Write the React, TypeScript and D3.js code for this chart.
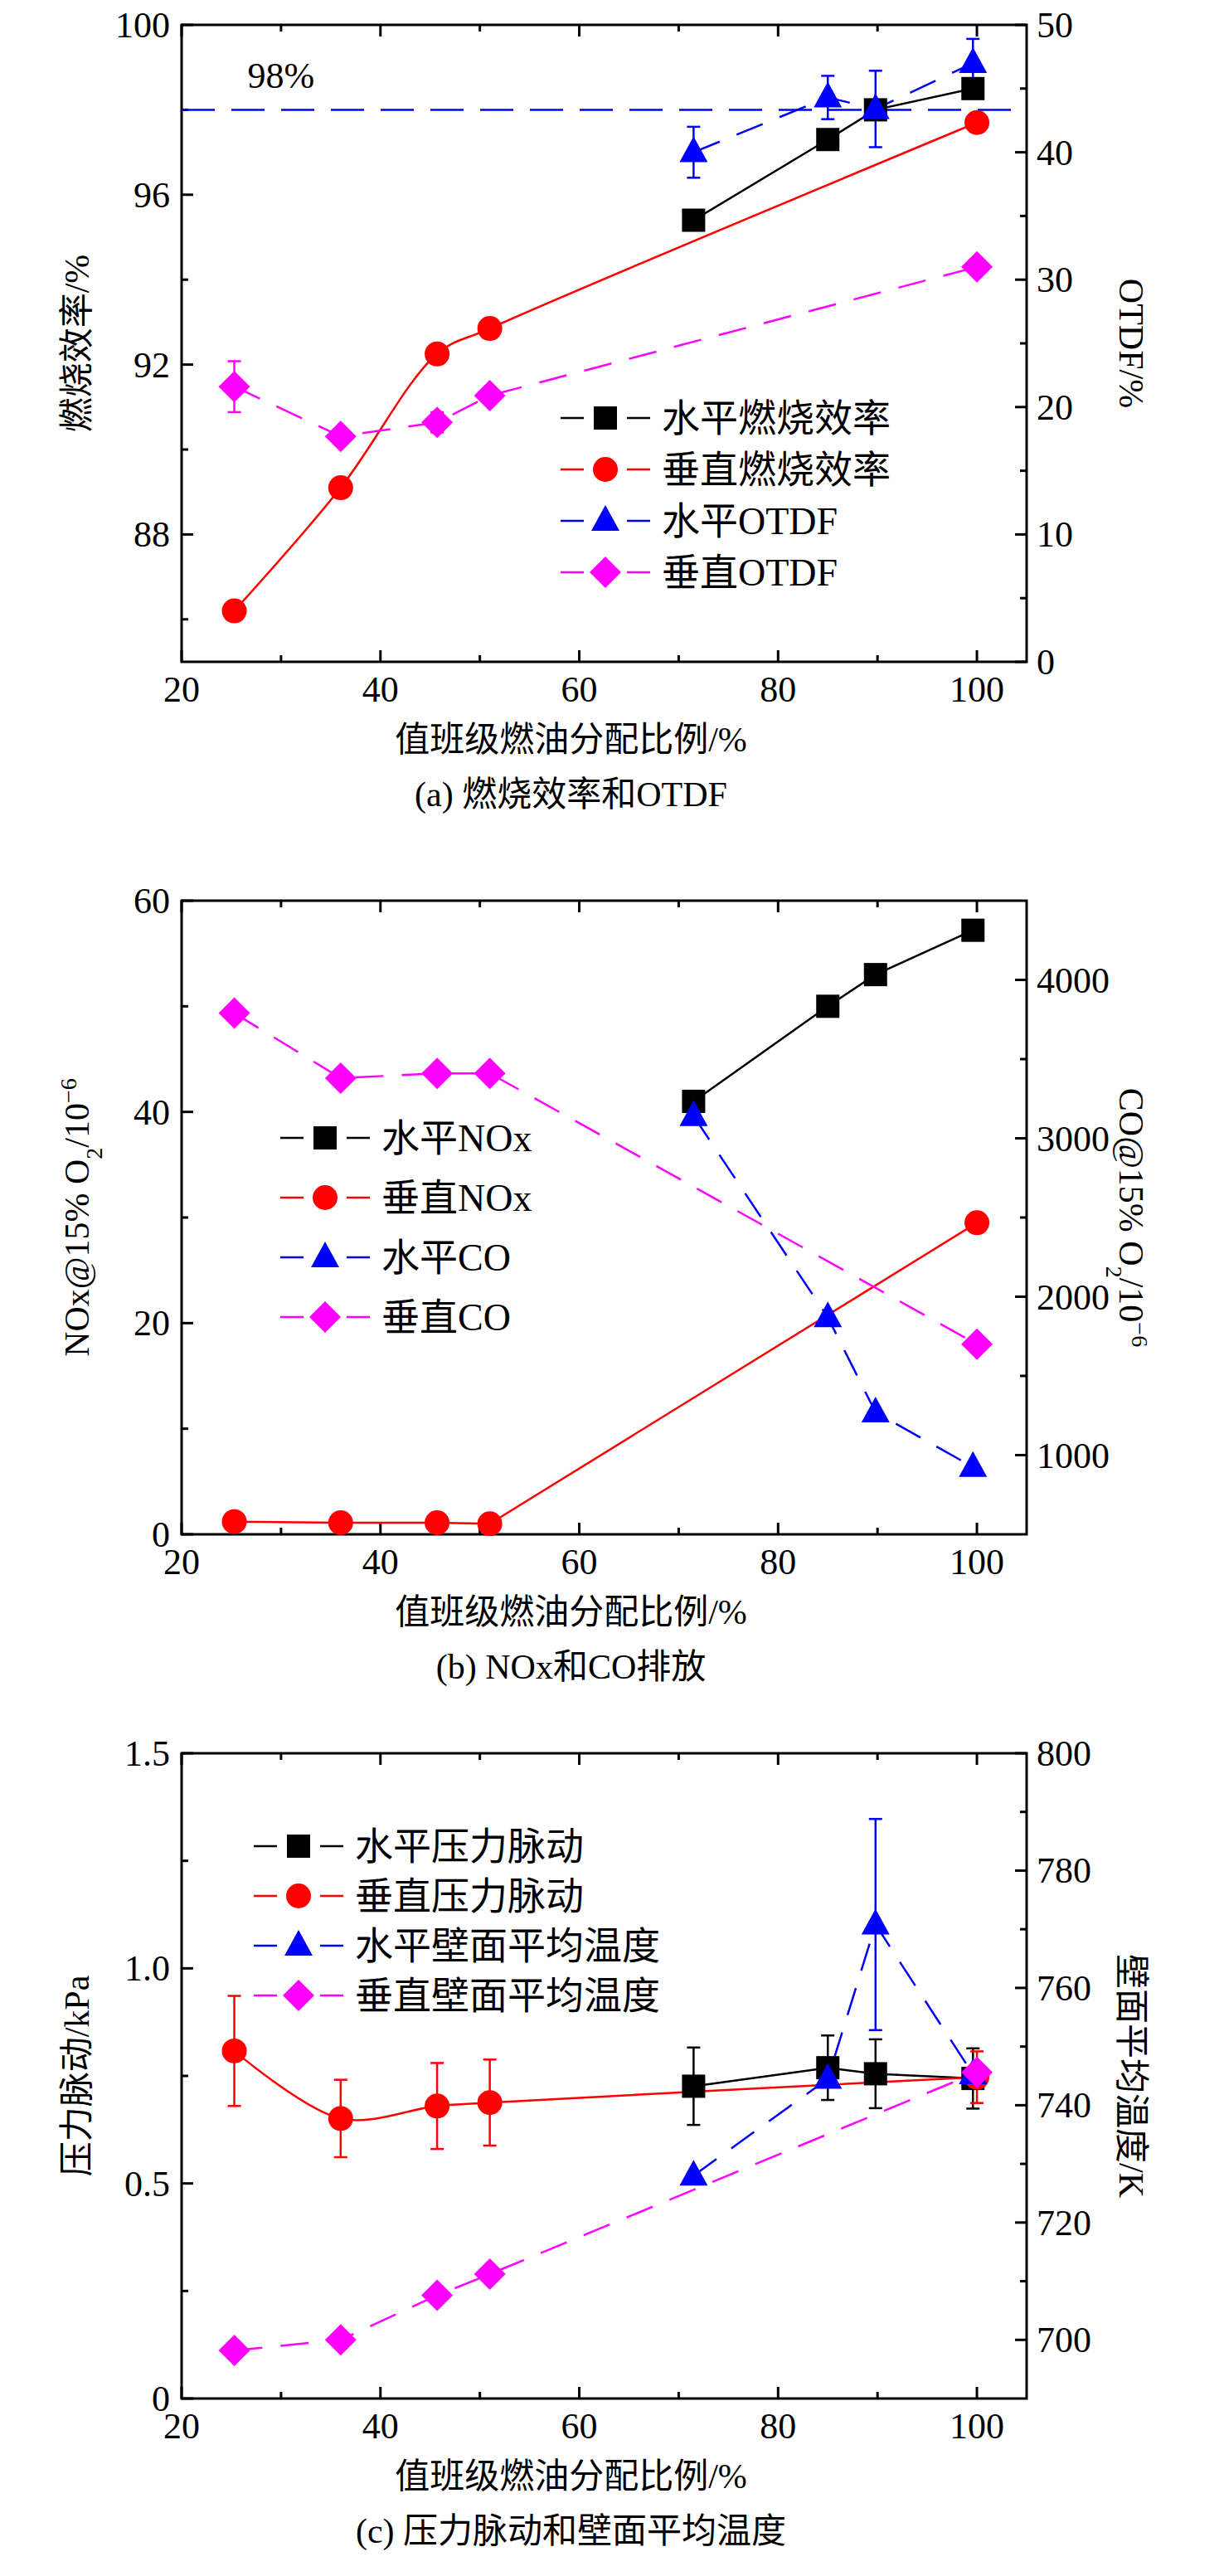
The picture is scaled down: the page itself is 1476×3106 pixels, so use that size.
import { useEffect, useRef } from "react";
import * as d3 from "d3";

// shared x positions (值班级燃油分配比例/%)
const xVert = [25.3, 36, 45.7, 51, 100];
const xHoriz = [71.5, 85, 89.8, 99.6];

// (a)
const effHoriz = [95.4, 97.3, 98.0, 98.5];
const effVert = [86.2, 89.1, 92.25, 92.85, 97.7];
const otdfHoriz = [40.0, 44.3, 43.4, 47.0];
const otdfHorizErr = [2, 1.7, 3, 1.9];
const otdfVert = [21.6, 17.7, 18.8, 20.9, 31.0];
const otdfVertErr = [2, 0, 0.8, 0, 0];

// (b)
const noxHoriz = [41, 50, 53, 57.2];
const noxVert = [1.2, 1.1, 1.1, 1.0, 29.5];
const coHoriz = [3140, 1870, 1270, 925];
const coVert = [3790, 3380, 3410, 3410, 1700];

// (c)
const pHoriz = [0.726, 0.769, 0.755, 0.744];
const pHorizErr = [0.09, 0.075, 0.08, 0.07];
const pVert = [0.808, 0.651, 0.68, 0.688, 0.747];
const pVertErr = [0.128, 0.09, 0.1, 0.1, 0.06];
const tHoriz = [728, 744.5, 770.8, 745.3];
const tHorizErr = [0, 0, 18, 0];
const tVert = [698.2, 700, 707.6, 711.2, 745.6];
const tVertErr = [1, 0, 0, 0, 0];

const FONT = "'Liberation Serif', 'Times New Roman', 'Noto Sans CJK SC', serif";
const X0 = 219, X1 = 1238;

type Series = {
  label: string; xs: number[]; ys: number[]; err?: number[];
  axis: "L" | "R"; color: string; shape: "sq" | "ci" | "tri" | "dia";
  dashed: boolean; smooth?: boolean;
};

type PanelDef = {
  top: number; bottom: number;
  yL: [number, number]; yLTicks: number[]; yLMinor: number[]; yLFmt: (v: number) => string;
  yR: [number, number]; yRTicks: number[]; yRMinor: number[];
  series: Series[];
  leftTitle: string; rightTitle: string; caption: string;
  legend: { x: number; y: number; dy: number };
  refLine?: number;
};

const xTicks = [20, 40, 60, 80, 100];
const xMinor = [30, 50, 70, 90];

function drawPanel(g: d3.Selection<SVGGElement, unknown, null, undefined>, p: PanelDef) {
  const x = d3.scaleLinear().domain([20, 105]).range([X0, X1]);
  const yL = d3.scaleLinear().domain(p.yL).range([p.bottom, p.top]);
  const yR = d3.scaleLinear().domain(p.yR).range([p.bottom, p.top]);
  const sw = 3;
  g.append("rect").attr("x", X0).attr("y", p.top).attr("width", X1 - X0)
    .attr("height", p.bottom - p.top).attr("fill", "none").attr("stroke", "#000").attr("stroke-width", sw);
  const tick = (x1: number, y1: number, x2: number, y2: number) =>
    g.append("line").attr("x1", x1).attr("y1", y1).attr("x2", x2).attr("y2", y2)
      .attr("stroke", "#000").attr("stroke-width", sw);
  const M = 14, m = 8;
  xTicks.forEach((v) => { tick(x(v), p.bottom, x(v), p.bottom - M); tick(x(v), p.top, x(v), p.top + M); });
  xMinor.forEach((v) => { tick(x(v), p.bottom, x(v), p.bottom - m); tick(x(v), p.top, x(v), p.top + m); });
  p.yLTicks.forEach((v) => tick(X0, yL(v), X0 + M, yL(v)));
  p.yLMinor.forEach((v) => tick(X0, yL(v), X0 + m, yL(v)));
  p.yRTicks.forEach((v) => tick(X1, yR(v), X1 - M, yR(v)));
  p.yRMinor.forEach((v) => tick(X1, yR(v), X1 - m, yR(v)));
  const txt = (t: string, tx: number, ty: number, anchor = "middle", fs = 44) =>
    g.append("text").attr("x", tx).attr("y", ty).attr("text-anchor", anchor)
      .attr("font-family", FONT).attr("font-size", fs).text(t);
  xTicks.forEach((v) => txt(String(v), x(v), p.bottom + 48));
  p.yLTicks.forEach((v) => txt(p.yLFmt(v), X0 - 14, yL(v) + 15, "end"));
  p.yRTicks.forEach((v) => txt(String(v), X1 + 12, yR(v) + 15, "start"));
  txt("值班级燃油分配比例/%", (X0 + X1) / 2 - 40, p.bottom + 108, "middle", 42);
  txt(p.caption, (X0 + X1) / 2 - 40, p.bottom + 174, "middle", 42);
  const mid = (p.top + p.bottom) / 2;
  g.append("text").attr("transform", `translate(${X0 - 112},${mid}) rotate(-90)`)
    .attr("text-anchor", "middle").attr("font-family", FONT).attr("font-size", 42).html(p.leftTitle);
  g.append("text").attr("transform", `translate(${X1 + 112},${mid}) rotate(90)`)
    .attr("text-anchor", "middle").attr("font-family", FONT).attr("font-size", 42).html(p.rightTitle);

  if (p.refLine !== undefined) {
    g.append("line").attr("x1", X0).attr("x2", X1).attr("y1", yL(p.refLine)).attr("y2", yL(p.refLine))
      .attr("stroke", "#0000ee").attr("stroke-width", 2.5).attr("stroke-dasharray", "40,20");
    g.append("text").attr("x", x(30)).attr("y", yL(p.refLine) - 26).attr("text-anchor", "middle")
      .attr("font-family", FONT).attr("font-size", 44).text(`${p.refLine}%`);
  }

  const marker = (s: Series, cx: number, cy: number) => {
    if (s.shape === "sq") g.append("rect").attr("x", cx - 14).attr("y", cy - 14).attr("width", 28).attr("height", 28).attr("fill", s.color);
    if (s.shape === "ci") g.append("circle").attr("cx", cx).attr("cy", cy).attr("r", 15).attr("fill", s.color);
    if (s.shape === "tri") g.append("path").attr("d", `M${cx},${cy - 19}L${cx + 17},${cy + 12}L${cx - 17},${cy + 12}Z`).attr("fill", s.color);
    if (s.shape === "dia") g.append("path").attr("d", `M${cx},${cy - 19}L${cx + 19},${cy}L${cx},${cy + 19}L${cx - 19},${cy}Z`).attr("fill", s.color);
  };

  p.series.forEach((s) => {
    const y = s.axis === "L" ? yL : yR;
    const pts = s.xs.map((v, i) => [x(v), y(s.ys[i])] as [number, number]);
    const line = d3.line().curve(s.smooth ? d3.curveCatmullRom : d3.curveLinear);
    g.append("path").attr("d", line(pts)).attr("fill", "none").attr("stroke", s.color)
      .attr("stroke-width", 2.5).attr("stroke-dasharray", s.dashed ? "34,22" : null);
    s.xs.forEach((v, i) => {
      const e = s.err ? s.err[i] : 0;
      if (e > 0) {
        const a = y(s.ys[i] - e), b = y(s.ys[i] + e);
        g.append("line").attr("x1", x(v)).attr("x2", x(v)).attr("y1", a).attr("y2", b).attr("stroke", s.color).attr("stroke-width", 2.5);
        [a, b].forEach((yy) => g.append("line").attr("x1", x(v) - 8).attr("x2", x(v) + 8).attr("y1", yy).attr("y2", yy).attr("stroke", s.color).attr("stroke-width", 2.5));
      }
    });
  });
  p.series.forEach((s) => {
    const y = s.axis === "L" ? yL : yR;
    s.xs.forEach((v, i) => marker(s, x(v), y(s.ys[i])));
  });

  p.series.forEach((s, i) => {
    const ly = p.legend.y + i * p.legend.dy;
    g.append("line").attr("x1", p.legend.x).attr("x2", p.legend.x + 108).attr("y1", ly).attr("y2", ly)
      .attr("stroke", s.color).attr("stroke-width", 2.5).attr("stroke-dasharray", "28,52,28");
    marker(s, p.legend.x + 54, ly);
    g.append("text").attr("x", p.legend.x + 122).attr("y", ly + 16).attr("font-family", FONT)
      .attr("font-size", 46).text(s.label);
  });
}

const panels: PanelDef[] = [
  {
    top: 30, bottom: 798, yL: [85, 100], yLTicks: [88, 92, 96, 100], yLMinor: [86, 90, 94, 98],
    yLFmt: (v) => String(v), yR: [0, 50], yRTicks: [0, 10, 20, 30, 40, 50], yRMinor: [5, 15, 25, 35, 45],
    leftTitle: "燃烧效率/%", rightTitle: "OTDF/%", caption: "(a) 燃烧效率和OTDF",
    legend: { x: 676, y: 504, dy: 62 }, refLine: 98,
    series: [
      { label: "水平燃烧效率", xs: xHoriz, ys: effHoriz, axis: "L", color: "#000", shape: "sq", dashed: false },
      { label: "垂直燃烧效率", xs: xVert, ys: effVert, axis: "L", color: "#ff0000", shape: "ci", dashed: false, smooth: true },
      { label: "水平OTDF", xs: xHoriz, ys: otdfHoriz, err: otdfHorizErr, axis: "R", color: "#0000ff", shape: "tri", dashed: true },
      { label: "垂直OTDF", xs: xVert, ys: otdfVert, err: otdfVertErr, axis: "R", color: "#ff00ff", shape: "dia", dashed: true },
    ],
  },
  {
    top: 1086, bottom: 1850, yL: [0, 60], yLTicks: [0, 20, 40, 60], yLMinor: [10, 30, 50],
    yLFmt: (v) => String(v), yR: [500, 4500], yRTicks: [1000, 2000, 3000, 4000], yRMinor: [1500, 2500, 3500],
    leftTitle: "NOx@15% O<tspan baseline-shift='sub' font-size='28'>2</tspan>/10<tspan baseline-shift='super' font-size='28'>−6</tspan>",
    rightTitle: "CO@15% O<tspan baseline-shift='sub' font-size='28'>2</tspan>/10<tspan baseline-shift='super' font-size='28'>−6</tspan>",
    caption: "(b) NOx和CO排放",
    legend: { x: 338, y: 1372, dy: 72 },
    series: [
      { label: "水平NOx", xs: xHoriz, ys: noxHoriz, axis: "L", color: "#000", shape: "sq", dashed: false },
      { label: "垂直NOx", xs: xVert, ys: noxVert, axis: "L", color: "#ff0000", shape: "ci", dashed: false },
      { label: "水平CO", xs: xHoriz, ys: coHoriz, axis: "R", color: "#0000ff", shape: "tri", dashed: true },
      { label: "垂直CO", xs: xVert, ys: coVert, axis: "R", color: "#ff00ff", shape: "dia", dashed: true },
    ],
  },
  {
    top: 2114, bottom: 2892, yL: [0, 1.5], yLTicks: [0, 0.5, 1.0, 1.5], yLMinor: [0.25, 0.75, 1.25],
    yLFmt: (v) => (v === 0 ? "0" : v.toFixed(1)), yR: [690, 800], yRTicks: [700, 720, 740, 760, 780, 800],
    yRMinor: [710, 730, 750, 770, 790],
    leftTitle: "压力脉动/kPa", rightTitle: "壁面平均温度/K", caption: "(c) 压力脉动和壁面平均温度",
    legend: { x: 306, y: 2226, dy: 60 },
    series: [
      { label: "水平压力脉动", xs: xHoriz, ys: pHoriz, err: pHorizErr, axis: "L", color: "#000", shape: "sq", dashed: false },
      { label: "垂直压力脉动", xs: xVert, ys: pVert, err: pVertErr, axis: "L", color: "#ff0000", shape: "ci", dashed: false, smooth: true },
      { label: "水平壁面平均温度", xs: xHoriz, ys: tHoriz, err: tHorizErr, axis: "R", color: "#0000ff", shape: "tri", dashed: true },
      { label: "垂直壁面平均温度", xs: xVert, ys: tVert, err: tVertErr, axis: "R", color: "#ff00ff", shape: "dia", dashed: true },
    ],
  },
];

export default function App() {
  const ref = useRef<SVGSVGElement | null>(null);
  useEffect(() => {
    const svg = d3.select(ref.current);
    svg.selectAll("*").remove();
    panels.forEach((p) => drawPanel(svg.append("g"), p));
  }, []);
  return (
    <svg ref={ref} width={1476} height={3106}
      style={{ position: "absolute", left: 0, top: 0, background: "#fff" }} />
  );
}
